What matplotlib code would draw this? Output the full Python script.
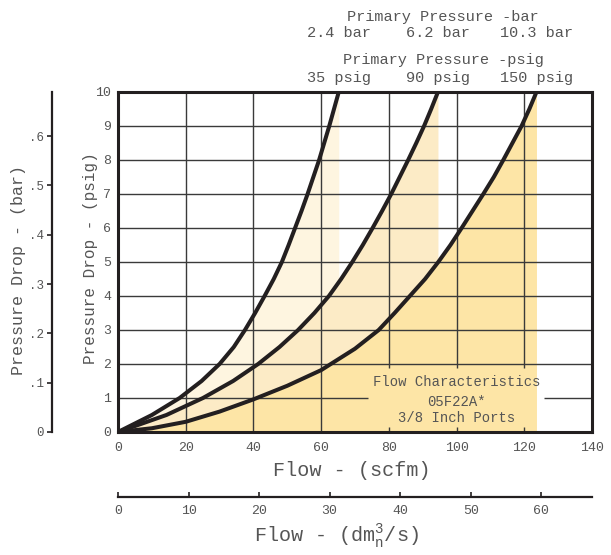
import matplotlib
matplotlib.use("Agg")
import matplotlib.pyplot as plt
from matplotlib import transforms

plt.rcParams['font.family'] = ['Liberation Mono', 'DejaVu Sans Mono']
plt.rcParams['mathtext.fontset'] = 'custom'
plt.rcParams['mathtext.rm'] = 'Liberation Mono'
plt.rcParams['mathtext.it'] = 'Liberation Mono'

TEXT = '#555555'
INK = '#231f20'
GRID = '#3a3a3a'

# flow (scfm) vs pressure drop (psig), one series per supply pressure
flow_35 = [0, 10.0, 18.2, 24.7, 30.0, 34.2, 37.5, 40.5, 43.3, 46.0, 48.4,
           50.4, 52.3, 54.2, 56.0, 57.7, 59.4, 60.9, 62.4, 63.8, 65.2]
drop_35 = [0, 0.5, 1, 1.5, 2, 2.5, 3, 3.5, 4, 4.5, 5,
           5.5, 6, 6.5, 7, 7.5, 8, 8.5, 9, 9.5, 10]

flow_90 = [0, 14.3, 25.1, 34.0, 41.4, 47.7, 53.2, 58.0, 62.3, 65.9, 69.2,
           72.3, 75.2, 78.0, 80.7, 83.2, 85.7, 88.1, 90.4, 92.5, 94.5]
drop_90 = [0, 0.5, 1, 1.5, 2, 2.5, 3, 3.5, 4, 4.5, 5,
           5.5, 6, 6.5, 7, 7.5, 8, 8.5, 9, 9.5, 10]

flow_150 = [0, 10, 20, 30, 40, 50, 60, 70, 77.0, 81.7, 86.2, 90.7, 94.6,
            98.2, 101.5, 104.7, 107.9, 111.0, 113.8, 116.5, 119.2, 121.5, 123.6]
drop_150 = [0, 0.11, 0.3, 0.6, 0.96, 1.36, 1.82, 2.45, 3, 3.5, 4, 4.5, 5,
            5.5, 6, 6.5, 7, 7.5, 8, 8.5, 9, 9.5, 10]

psig_labels = ['35 psig', '90 psig', '150 psig']
bar_labels = ['2.4 bar', '6.2 bar', '10.3 bar']
legend_lines = ['Flow Characteristics', '05F22A*', '3/8 Inch Ports']

flow_ticks = [0, 20, 40, 60, 80, 100, 120, 140]
drop_ticks = list(range(0, 11))
bar_ticks = [0, 0.1, 0.2, 0.3, 0.4, 0.5, 0.6]
bar_tick_labels = ['0', '.1', '.2', '.3', '.4', '.5', '.6']
dm3_ticks = [0, 10, 20, 30, 40, 50, 60]

PSI_PER_BAR = 14.5038
DM3_PER_SCFM = 0.48

series = [(flow_35, drop_35, '#fef5e0'),
          (flow_90, drop_90, '#fcebc6'),
          (flow_150, drop_150, '#fde5a6')]

fig = plt.figure(figsize=(6.11, 5.55), dpi=100)
ax = fig.add_axes([118 / 611, 1 - 432 / 555, 474 / 611, 340 / 555])
ax.set_xlim(0, 140)
ax.set_ylim(0, 10)

# shaded regions: from each curve across to its end flow
for flow, drop, col in series:
    ax.fill_betweenx(drop, flow, flow[-1], color=col, lw=0, zorder=1)

# grid, left open behind the caption
gkw = dict(color=GRID, lw=1.0, zorder=2)
ax.vlines([20, 40, 60], 0, 10, **gkw)
ax.vlines([80, 100, 120], 0, 0.15, **gkw)
ax.vlines([80, 100, 120], 1.88, 10, **gkw)
ax.hlines(list(range(2, 10)), 0, 140, **gkw)
ax.hlines(1, 0, 73.8, **gkw)
ax.hlines(1, 125.8, 140, **gkw)

for flow, drop, col in series:
    ax.plot(flow, drop, color=INK, lw=2.9, solid_capstyle='butt',
            solid_joinstyle='round', zorder=4)

for s in ax.spines.values():
    s.set_linewidth(2.2)
    s.set_color(INK)
    s.set_zorder(5)

ax.set_xticks(flow_ticks)
ax.set_yticks(drop_ticks)
ax.tick_params(length=0, labelsize=9.5, labelcolor=TEXT)
ax.tick_params(axis='x', pad=7)
ax.tick_params(axis='y', pad=5)

# caption
for txt, yy in zip(legend_lines, [1.48, 0.89, 0.40]):
    ax.text(100, yy, txt, ha='center', va='center', fontsize=10,
            color=TEXT, zorder=6)

# supply pressure labels above each curve end
trans = transforms.blended_transform_factory(ax.transData, ax.transAxes)
for (flow, drop, col), pl, bl in zip(series, psig_labels, bar_labels):
    ax.text(flow[-1], 1.041, pl, transform=trans, ha='center', va='center',
            fontsize=11, color=TEXT, clip_on=False)
    ax.text(flow[-1], 1.174, bl, transform=trans, ha='center', va='center',
            fontsize=11, color=TEXT, clip_on=False)
fig.text(443 / 611, 1 - 60 / 555, 'Primary Pressure -psig', ha='center',
         va='center', fontsize=11, color=TEXT)
fig.text(443 / 611, 1 - 17 / 555, 'Primary Pressure -bar', ha='center',
         va='center', fontsize=11, color=TEXT)

# bar scale on the far left
secy = ax.secondary_yaxis(-66 / 474, functions=(lambda p: p / PSI_PER_BAR,
                                                 lambda b: b * PSI_PER_BAR))
secy.set_yticks(bar_ticks)
secy.set_yticklabels(bar_tick_labels)
secy.tick_params(direction='out', length=3.6, width=1.2, color=INK,
                 labelsize=9, labelcolor=TEXT, pad=2)
secy.spines['left'].set_linewidth(1.6)
secy.spines['left'].set_color(INK)

# dm3/s scale below
secx = ax.secondary_xaxis(-65 / 340, functions=(lambda f: f * DM3_PER_SCFM,
                                                 lambda d: d / DM3_PER_SCFM))
secx.set_xticks(dm3_ticks)
secx.tick_params(direction='in', length=3.6, width=1.2, color=INK,
                 labelsize=9.5, labelcolor=TEXT, pad=6)
secx.spines['bottom'].set_linewidth(1.6)
secx.spines['bottom'].set_color(INK)

fig.text(352 / 611, 1 - 470 / 555, 'Flow - (scfm)', ha='center', va='center',
         fontsize=14.5, color=TEXT)
fig.text(336 / 611, 1 - 537 / 555, r'Flow - (dm$_{\rm n}^{3}$/s)', ha='center',
         va='center', fontsize=14.5, color=TEXT)
fig.text(90 / 611, 1 - 258 / 555, 'Pressure Drop - (psig)', rotation=90,
         ha='center', va='center', fontsize=11.5, color=TEXT)
fig.text(19 / 611, 1 - 270 / 555, 'Pressure Drop - (bar)', rotation=90,
         ha='center', va='center', fontsize=12, color=TEXT)

fig.savefig('out.png', dpi=100, facecolor='white')
